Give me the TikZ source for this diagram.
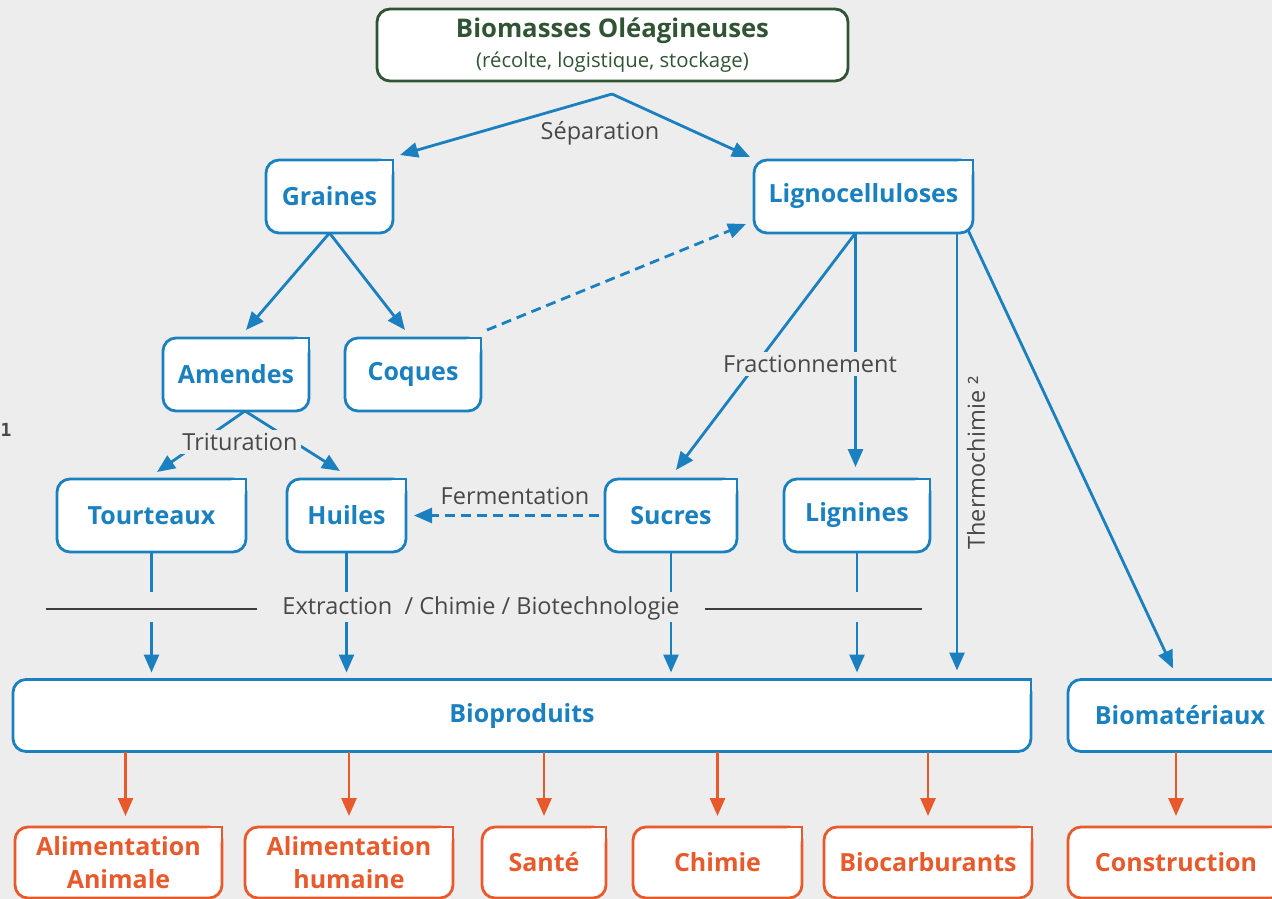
\documentclass[tikz,border=0pt]{standalone}
\usepackage{fontspec}
\setmainfont{Open Sans}
\setmonofont{DejaVu Sans Mono}
\usetikzlibrary{arrows.meta,positioning}

\definecolor{fond}{RGB}{237,237,237}
\definecolor{bleu}{RGB}{26,128,191}
\definecolor{vert}{RGB}{48,84,52}
\definecolor{orangeus}{RGB}{232,90,44}
\definecolor{gristexte}{RGB}{72,72,72}

\begin{document}
\begin{tikzpicture}[x=1pt, y=-1pt, >={Triangle[length=18pt,width=15pt]},
    etape/.style={draw=bleu, line width=2.8pt, fill=white, rounded corners=13pt, outer sep=0pt, inner sep=0pt,
        minimum height=73pt, align=center, text=bleu, font=\fontsize{25}{33}\selectfont\bfseries},
    usage/.style={etape, draw=orangeus, text=orangeus, minimum height=71pt},
    source/.style={etape, draw=vert, text=vert, font=\fontsize{25.7}{30}\selectfont\bfseries},
    procede/.style={text=gristexte, font=\fontsize{23.5}{26}\selectfont, fill=fond, inner sep=3pt},
    flow/.style={->, draw=bleu, line width=2.8pt},
    pointille/.style={flow, dash pattern=on 10pt off 6pt},
    usearrow/.style={->, draw=orangeus, line width=2.8pt, shorten >=11pt},
    trait/.style={draw=gristexte!85!black, line width=2pt}]
    \fill[fond] (0,0) rectangle (1272,899);
    \useasboundingbox (0,0) rectangle (1272,899);
    % Nodes (raw material and intermediate products)
    \node[source, minimum width=471pt, minimum height=72pt] (biomasse) at (612.5,45) {Biomasses Oléagineuses\\{\fontsize{20.3}{22}\selectfont\mdseries (récolte, logistique, stockage)}};
    \node[etape, minimum width=127pt] (graines) at (329.5,196.5) {Graines};
    \node[etape, minimum width=219pt] (ligno) at (863.5,196.5) {Lignocelluloses};
    \node[etape, minimum width=146pt] (amendes) at (236,374.5) {Amendes};
    \node[etape, minimum width=136pt, right=36pt of amendes] (coques) {Coques};
    \node[etape, minimum width=189pt] (tourteaux) at (151.5,515.5) {Tourteaux};
    \node[etape, minimum width=119pt, right=41pt of tourteaux] (huiles) {Huiles};
    \node[etape, minimum width=132pt] (sucres) at (671,515.5) {Sucres};
    \node[etape, minimum width=146pt, right=47pt of sucres] (lignines) {Lignines};
    \node[etape, minimum width=1018pt, minimum height=72pt] (bioprod) at (522,715.5) {Bioproduits};
    \node[etape, minimum width=224pt, minimum height=72pt] (biomat) at (1180,715.5) {Biomatériaux};
    % Outcome nodes (uses)
    \node[usage, minimum width=207pt] (alimA) at (118.5,862.5) {Alimentation\\Animale};
    \node[usage, minimum width=208pt, right=23pt of alimA] (alimH) {Alimentation\\humaine};
    \node[usage, minimum width=124pt, right=29pt of alimH] (sante) {Santé};
    \node[usage, minimum width=169pt, right=27pt of sante] (chimie) {Chimie};
    \node[usage, minimum width=208pt, right=22pt of chimie] (biocarb) {Biocarburants};
    \node[usage, minimum width=216pt, right=36pt of biocarb] (constr) {Construction};
    % Square top right corners
    \foreach \n in {graines,ligno,amendes,coques,tourteaux,huiles,sucres,lignines,bioprod,biomat}
        \filldraw[fill=white, draw=bleu, line width=2.8pt] ([xshift=-16pt]\n.north east) -- (\n.north east) -- ([yshift=-16pt]\n.north east);
    \foreach \n in {alimA,alimH,sante,chimie,biocarb,constr}
        \filldraw[fill=white, draw=orangeus, line width=2.8pt] ([xshift=-16pt]\n.north east) -- (\n.north east) -- ([yshift=-16pt]\n.north east);
    \node[text=gristexte, font=\fontsize{18}{20}\selectfont\ttfamily\bfseries] (renvoi) at (6,430) {1};
    % Arrows
    \coordinate (sep) at (612,94);
    \draw[flow] (sep) -- ([shift={(7,-5)}]graines.north east);
    \draw[flow] (sep) -- ([shift={(-4,-3)}]ligno.north west);
    \node[procede, fill=none] (separation) at (600,133) {Séparation};
    \draw[flow] (graines.south) -- ([shift={(10,-8)}]amendes.north);
    \draw[flow] (graines.south) -- ([shift={(-8,-8)}]coques.north);
    \draw[pointille] ([shift={(6,-8)}]coques.north east) -- ([shift={(-8,-9)}]ligno.south west);
    \coordinate (tritu) at ([xshift=9pt]amendes.south);
    \draw[flow] (tritu) -- ([shift={(5.5,-7)}]tourteaux.north);
    \draw[flow] (tritu) -- ([shift={(-6.5,-8)}]huiles.north);
    \node[procede] (trituration) at (240,442) {Trituration};
    \draw[pointille] ([xshift=-6pt]sucres.west) -- ([xshift=8pt]huiles.east);
    \node[procede, fill=none] (fermentation) at (515,496) {Fermentation};
    \coordinate (fract) at ([xshift=-8pt]ligno.south);
    \draw[flow] (fract) -- ([shift={(5,-9)}]sucres.north);
    \draw[flow, shorten >=12pt] (fract) -- (fract |- lignines.north);
    \node[procede] (fractionnement) at (810,364) {Fractionnement};
    \coordinate (thermo) at ([xshift=-16pt]ligno.south east);
    \draw[flow, shorten >=9pt] (thermo) -- (thermo |- bioprod.north);
    \node[procede, fill=none, rotate=90] (thermochimie) at (976,463) {Thermochimie ²};
    \draw[flow] ([shift={(-5,-3)}]ligno.south east) -- ([shift={(-7,-11)}]biomat.north);
    % Extraction / Chimie / Biotechnologie band
    \coordinate (ext west) at (46,609);
    \coordinate (ext east) at (922,609);
    \coordinate (cut top) at (0,592);
    \coordinate (cut bottom) at (0,622);
    \draw[trait] (ext west) -- (ext east);
    \node[procede, inner xsep=25pt] (extraction) at (481,608) {Extraction\ \ / Chimie / Biotechnologie};
    \foreach \n in {tourteaux,huiles,sucres,lignines} {
        \draw[flow, -] (\n.south) -- (\n.south |- cut top);
        \draw[flow, shorten >=7pt] (\n.south |- cut bottom) -- (\n.south |- bioprod.north);
    }
    % Uses
    \foreach \n/\dx in {alimA/7,alimH/0,sante/0,chimie/0,biocarb/0}
        \draw[usearrow] ([xshift=\dx pt]bioprod.south -| \n.north) -- ([xshift=\dx pt]\n.north);
    \draw[usearrow] (biomat.south -| constr.north) -- (constr.north);
\end{tikzpicture}
\end{document}
